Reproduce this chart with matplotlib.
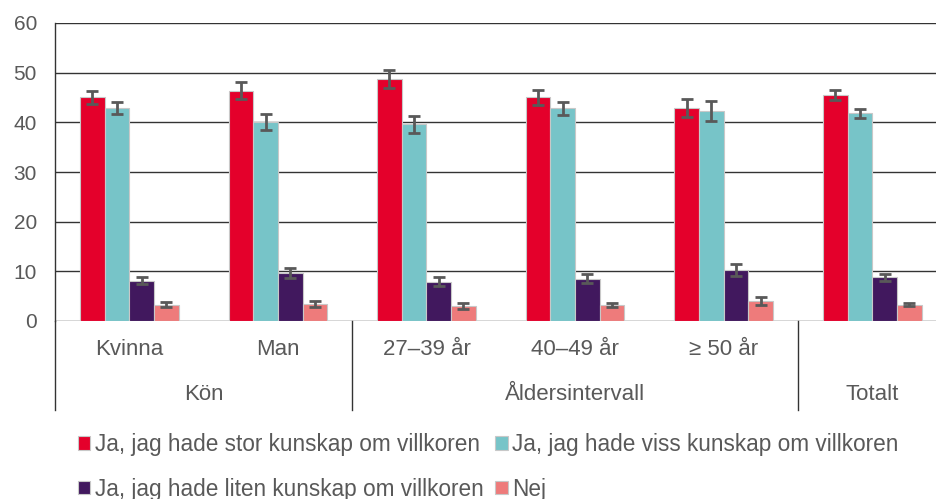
import numpy as np
import matplotlib.pyplot as plt
import matplotlib.transforms as mtransforms

plt.rcParams['font.family'] = ['Liberation Sans', 'DejaVu Sans']

# categories and groups
categories = ['Kvinna', 'Man', '27\u201339 år', '40\u201349 år', '\u2265 50 år', '']
groups = ['Kön', 'Åldersintervall', 'Totalt']
group_centers = [0.5, 3, 5]
group_bounds = [-0.5, 1.5, 4.5, 5.5]

series_names = ['Ja, jag hade stor kunskap om villkoren',
                'Ja, jag hade liten kunskap om villkoren',
                'Ja, jag hade viss kunskap om villkoren',
                'Nej']

# values (percent) per category
stor = [45.0, 46.4, 48.8, 45.0, 42.8, 45.5]
viss = [42.8, 40.0, 39.6, 42.8, 42.3, 41.8]
liten = [8.1, 9.6, 7.9, 8.5, 10.3, 8.8]
nej = [3.3, 3.4, 3.1, 3.2, 4.1, 3.3]

stor_err = [1.25, 1.8, 1.8, 1.45, 1.8, 1.0]
viss_err = [1.2, 1.6, 1.7, 1.3, 2.0, 0.9]
liten_err = [0.7, 1.0, 0.9, 0.9, 1.15, 0.65]
nej_err = [0.5, 0.6, 0.6, 0.4, 0.8, 0.3]

colors = ['#E4002B', '#77C4C8', '#41185E', '#EE7B7B']
text_col = '#595959'

fig = plt.figure(figsize=(9.36, 4.99), dpi=100)
ax = fig.add_axes([55 / 936, (499 - 321) / 499, (946.5 - 55) / 936, (321 - 23) / 499])

x = np.arange(len(categories))
w = 0.166
series = [(stor, stor_err), (viss, viss_err), (liten, liten_err), (nej, nej_err)]
handles = []
for i, (vals, errs) in enumerate(series):
    pos = x + (i - 1.5) * w
    b = ax.bar(pos, vals, width=w, color=colors[i], edgecolor='#C8C8C8', linewidth=0.8, zorder=3)
    ax.errorbar(pos, vals, yerr=errs, fmt='none', ecolor='#595959', elinewidth=2,
                capsize=4, capthick=2, zorder=4)
    handles.append(b)

ax.set_xlim(-0.5, 5.5)
ax.set_ylim(0, 60)
ax.set_yticks(range(0, 61, 10))
ax.yaxis.grid(True, color='#333333', linewidth=1.0, zorder=0)
ax.set_axisbelow(True)
ax.tick_params(axis='y', length=0, pad=13, labelsize=15, labelcolor=text_col)
ax.set_xticks([])
for s in ['top', 'right', 'bottom']:
    ax.spines[s].set_visible(False)
ax.spines['left'].set_color('#333333')
ax.spines['left'].set_linewidth(1.0)

trans = mtransforms.blended_transform_factory(ax.transData, ax.transAxes)
for xb in group_bounds:
    ax.plot([xb, xb], [0, -0.2987], color='#333333', linewidth=1.0,
            transform=trans, clip_on=False)
for xi, lab in zip(x, categories):
    ax.text(xi, -0.097, lab, transform=trans, ha='center', va='center',
            fontsize=16, color=text_col)
for xc, g in zip(group_centers, groups):
    ax.text(xc, -0.248, g, transform=trans, ha='center', va='center',
            fontsize=16, color=text_col)

order = [handles[0], handles[2], handles[1], handles[3]]
fig.legend(order, series_names, loc='upper left', bbox_to_anchor=(78 / 936, 1 - 433 / 499),
           ncol=2, frameon=False, fontsize=16.3, handlelength=0.55, handleheight=0.55,
           handletextpad=0.2, columnspacing=0.5, labelspacing=0.95, borderpad=0,
           borderaxespad=0, labelcolor=text_col)

fig.savefig('out.png', dpi=100)
